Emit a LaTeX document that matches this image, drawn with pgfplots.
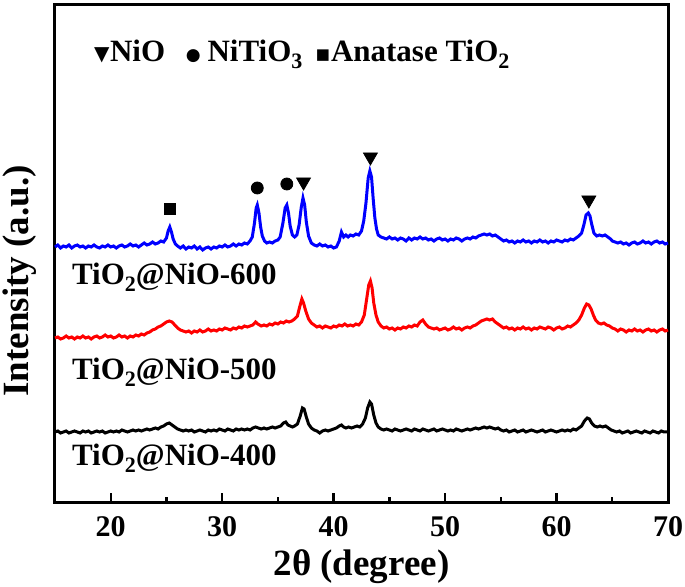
\documentclass[border=0pt]{standalone}
\usepackage{fontspec}
\setmainfont{Liberation Serif}
\newfontfamily\symfont{DejaVu Sans}
\usepackage{pgfplots}
\pgfplotsset{compat=1.18}
\newcommand{\sub}[1]{\raisebox{-0.45ex}{\fontsize{11}{11}\selectfont #1}}
\begin{document}
\begin{tikzpicture}
\begin{axis}[
  width=306.5pt, height=249pt, scale only axis,
  xmin=15, xmax=70, ymin=0, ymax=498,
  xtick={20,30,40,50,60,70}, minor x tick num=1,
  ytick=\empty, xtick pos=bottom, tick align=inside,
  major tick length=5pt, minor tick length=3pt,
  every tick/.style={black, line width=1.2pt},
  axis line style={line width=1.5pt},
  /pgf/number format/assume math mode=true,
  tick label style={font=\bfseries\fontsize{15}{15}\selectfont},
  xticklabel style={yshift=-3pt},
  xlabel={2θ (degree)},
  ylabel={Intensity (a.u.)},
  label style={font=\bfseries\fontsize{18.5}{20}\selectfont},
  xlabel style={yshift=0pt},
  ylabel style={yshift=5.5pt, xshift=-13.5pt},
  clip=false,
]
\coordinate (bl) at (rel axis cs:0,0);
\coordinate (tr) at (rel axis cs:1,1);
% blue: TiO2@NiO-600
\addplot[blue, line width=1.5pt] coordinates {
(15.0,256)(15.25,258)(15.5,255)(15.75,257)(16.0,256)(16.25,258)(16.5,255)(16.75,257)(17.0,258)(17.25,256)(17.5,257)(17.75,255)(18.0,257)(18.25,256)(18.5,258)(18.75,256)(19.0,255)(19.25,257)(19.5,256)(19.75,258)(20.0,256)(20.25,257)(20.5,255)(20.75,257)(21.0,258)(21.25,256)(21.5,257)(21.75,259)(22.0,257)(22.25,258)(22.5,256)(22.75,258)(23.0,260)(23.25,258)(23.5,259)(23.75,261)(24.0,259)(24.25,260)(24.5,262)(24.75,261)(25.0,265)(25.15,272)(25.3,276)(25.45,271)(25.6,264)(25.8,259)(26.0,257)(26.25,255)(26.5,257)(26.75,254)(27.0,256)(27.25,255)(27.5,257)(27.75,254)(28.0,256)(28.25,253)(28.5,255)(28.75,256)(29.0,254)(29.25,256)(29.5,255)(29.75,257)(30.0,256)(30.25,258)(30.5,256)(30.75,257)(31.0,259)(31.25,257)(31.5,259)(31.75,258)(32.0,260)(32.25,259)(32.5,262)(32.7,266)(32.9,280)(33.05,295)(33.15,298)(33.3,290)(33.45,276)(33.6,267)(33.8,262)(34.0,260)(34.25,261)(34.5,260)(34.75,262)(35.0,263)(35.2,266)(35.45,280)(35.65,295)(35.8,298)(35.95,290)(36.1,277)(36.3,268)(36.5,266)(36.7,268)(36.9,278)(37.1,296)(37.25,305)(37.4,298)(37.55,281)(37.75,267)(38.0,260)(38.25,258)(38.5,257)(38.75,259)(39.0,257)(39.25,258)(39.5,256)(39.75,257)(40.0,255)(40.25,256)(40.5,262)(40.7,271)(40.9,266)(41.1,268)(41.3,266)(41.5,268)(41.75,267)(42.0,269)(42.25,268)(42.5,272)(42.7,282)(42.9,300)(43.1,325)(43.25,332)(43.4,326)(43.55,304)(43.7,285)(43.85,274)(44.0,268)(44.25,266)(44.5,265)(44.75,264)(45.0,266)(45.25,264)(45.5,265)(45.75,263)(46.0,265)(46.25,264)(46.5,262)(46.75,265)(47.0,263)(47.25,265)(47.5,264)(47.75,266)(48.0,264)(48.25,265)(48.5,263)(48.75,264)(49.0,262)(49.25,264)(49.5,265)(49.75,263)(50.0,264)(50.25,262)(50.5,264)(50.75,263)(51.0,265)(51.25,264)(51.5,262)(51.75,264)(52.0,265)(52.25,264)(52.5,266)(52.75,265)(53.0,267)(53.25,268)(53.5,269)(53.75,268)(54.0,269)(54.25,267)(54.5,268)(54.75,266)(55.0,264)(55.25,262)(55.5,263)(55.75,261)(56.0,262)(56.25,260)(56.5,262)(56.75,261)(57.0,263)(57.25,261)(57.5,262)(57.75,260)(58.0,262)(58.25,261)(58.5,263)(58.75,261)(59.0,262)(59.25,260)(59.5,262)(59.75,261)(60.0,263)(60.25,262)(60.5,261)(60.75,263)(61.0,262)(61.25,264)(61.5,263)(61.75,265)(62.0,267)(62.25,270)(62.45,278)(62.65,288)(62.85,290)(63.0,287)(63.15,279)(63.35,270)(63.6,267)(63.85,268)(64.1,267)(64.35,268)(64.6,266)(64.85,264)(65.0,262)(65.25,261)(65.5,260)(65.75,261)(66.0,259)(66.25,260)(66.5,258)(66.75,260)(67.0,261)(67.25,259)(67.5,260)(67.75,262)(68.0,260)(68.25,261)(68.5,259)(68.75,261)(69.0,262)(69.25,260)(69.5,261)(69.75,259)(70.0,260)
};
% red: TiO2@NiO-500
\addplot[red, line width=1.5pt] coordinates {
(15.0,165)(15.25,166)(15.5,164)(15.75,165)(16.0,167)(16.25,165)(16.5,166)(16.75,164)(17.0,166)(17.25,165)(17.5,167)(17.75,165)(18.0,166)(18.25,164)(18.5,166)(18.75,167)(19.0,165)(19.25,166)(19.5,168)(19.75,166)(20.0,167)(20.25,165)(20.5,166)(20.75,168)(21.0,166)(21.25,167)(21.5,165)(21.75,167)(22.0,166)(22.25,168)(22.5,167)(22.75,169)(23.0,168)(23.25,170)(23.5,171)(23.75,173)(24.0,174)(24.25,176)(24.5,177)(24.75,179)(25.0,181)(25.25,182)(25.5,181)(25.75,178)(26.0,175)(26.25,173)(26.5,172)(26.75,171)(27.0,172)(27.25,170)(27.5,172)(27.75,171)(28.0,173)(28.25,171)(28.5,172)(28.75,174)(29.0,172)(29.25,173)(29.5,172)(29.75,174)(30.0,173)(30.25,175)(30.5,174)(30.75,173)(31.0,175)(31.25,174)(31.5,176)(31.75,175)(32.0,177)(32.25,176)(32.5,177)(32.75,178)(33.0,181)(33.2,179)(33.5,177)(33.75,178)(34.0,177)(34.25,179)(34.5,178)(34.75,180)(35.0,179)(35.25,181)(35.5,180)(35.75,182)(36.0,181)(36.25,182)(36.5,184)(36.75,187)(36.95,196)(37.15,204)(37.3,200)(37.5,192)(37.75,184)(38.0,180)(38.25,178)(38.5,176)(38.75,177)(39.0,175)(39.25,177)(39.5,176)(39.75,175)(40.0,177)(40.25,176)(40.5,178)(40.75,177)(41.0,179)(41.25,177)(41.5,178)(41.75,177)(42.0,179)(42.25,178)(42.5,181)(42.75,188)(42.95,203)(43.15,218)(43.3,222)(43.45,215)(43.6,200)(43.8,188)(44.0,181)(44.25,177)(44.5,175)(44.75,176)(45.0,174)(45.25,175)(45.5,173)(45.75,175)(46.0,174)(46.25,176)(46.5,175)(46.75,177)(47.0,176)(47.25,178)(47.5,177)(47.75,181)(48.0,183)(48.25,179)(48.5,176)(48.75,175)(49.0,174)(49.25,175)(49.5,173)(49.75,174)(50.0,175)(50.25,173)(50.5,174)(50.75,176)(51.0,174)(51.25,175)(51.5,173)(51.75,175)(52.0,176)(52.25,175)(52.5,177)(52.75,178)(53.0,180)(53.25,182)(53.5,183)(53.75,184)(54.0,183)(54.25,184)(54.5,181)(54.75,179)(55.0,177)(55.25,175)(55.5,176)(55.75,174)(56.0,175)(56.25,173)(56.5,175)(56.75,174)(57.0,176)(57.25,174)(57.5,175)(57.75,173)(58.0,175)(58.25,174)(58.5,176)(58.75,175)(59.0,174)(59.25,176)(59.5,175)(59.75,173)(60.0,175)(60.25,176)(60.5,174)(60.75,175)(61.0,177)(61.25,176)(61.5,178)(61.75,180)(62.0,183)(62.25,188)(62.5,195)(62.7,199)(62.9,198)(63.1,194)(63.3,188)(63.5,183)(63.75,180)(64.0,179)(64.25,180)(64.5,178)(64.75,177)(65.0,175)(65.25,174)(65.5,172)(65.75,174)(66.0,173)(66.25,171)(66.5,173)(66.75,172)(67.0,174)(67.25,172)(67.5,173)(67.75,171)(68.0,173)(68.25,174)(68.5,172)(68.75,173)(69.0,171)(69.25,173)(69.5,174)(69.75,172)(70.0,173)
};
% black: TiO2@NiO-400
\addplot[black, line width=1.5pt] coordinates {
(15.0,71)(15.25,72)(15.5,70)(15.75,71)(16.0,72)(16.25,70)(16.5,71)(16.75,72)(17.0,71)(17.25,70)(17.5,72)(17.75,71)(18.0,72)(18.25,70)(18.5,71)(18.75,72)(19.0,71)(19.25,72)(19.5,70)(19.75,71)(20.0,72)(20.25,71)(20.5,72)(20.75,71)(21.0,73)(21.25,72)(21.5,71)(21.75,72)(22.0,73)(22.25,72)(22.5,73)(22.75,72)(23.0,73)(23.25,74)(23.5,73)(23.75,74)(24.0,75)(24.25,74)(24.5,76)(24.75,77)(25.0,79)(25.25,80)(25.5,78)(25.75,76)(26.0,74)(26.25,73)(26.5,72)(26.75,73)(27.0,72)(27.25,73)(27.5,71)(27.75,72)(28.0,73)(28.25,72)(28.5,71)(28.75,73)(29.0,72)(29.25,73)(29.5,72)(29.75,74)(30.0,73)(30.25,72)(30.5,74)(30.75,73)(31.0,72)(31.25,74)(31.5,73)(31.75,74)(32.0,73)(32.25,74)(32.5,73)(32.75,75)(33.0,76)(33.25,75)(33.5,74)(33.75,75)(34.0,74)(34.25,75)(34.5,76)(34.75,75)(35.0,76)(35.25,77)(35.5,80)(35.7,81)(35.9,78)(36.1,77)(36.3,76)(36.5,77)(36.75,79)(37.0,87)(37.2,95)(37.35,94)(37.55,86)(37.75,79)(38.0,75)(38.25,73)(38.5,72)(38.75,70)(39.0,72)(39.25,73)(39.5,72)(39.75,73)(40.0,74)(40.25,75)(40.5,77)(40.7,78)(40.9,76)(41.1,75)(41.35,76)(41.6,75)(41.85,76)(42.1,77)(42.35,76)(42.6,79)(42.85,85)(43.05,95)(43.25,101)(43.4,99)(43.6,88)(43.8,80)(44.0,76)(44.25,74)(44.5,73)(44.75,74)(45.0,73)(45.25,72)(45.5,74)(45.75,73)(46.0,72)(46.25,73)(46.5,74)(46.75,73)(47.0,72)(47.25,74)(47.5,73)(47.75,72)(48.0,74)(48.25,73)(48.5,72)(48.75,73)(49.0,74)(49.25,72)(49.5,73)(49.75,74)(50.0,73)(50.25,72)(50.5,73)(50.75,72)(51.0,74)(51.25,73)(51.5,72)(51.75,73)(52.0,74)(52.25,73)(52.5,74)(52.75,75)(53.0,74)(53.25,75)(53.5,76)(53.75,75)(54.0,76)(54.25,75)(54.5,74)(54.75,75)(55.0,73)(55.25,72)(55.5,73)(55.75,71)(56.0,72)(56.25,73)(56.5,71)(56.75,72)(57.0,73)(57.25,71)(57.5,72)(57.75,73)(58.0,72)(58.25,71)(58.5,72)(58.75,73)(59.0,71)(59.25,72)(59.5,73)(59.75,72)(60.0,71)(60.25,72)(60.5,73)(60.75,72)(61.0,73)(61.25,72)(61.5,74)(61.75,73)(62.0,75)(62.25,77)(62.5,82)(62.75,85)(62.95,84)(63.15,80)(63.4,77)(63.65,76)(63.9,77)(64.15,76)(64.4,77)(64.65,75)(64.9,73)(65.15,72)(65.4,71)(65.65,72)(65.9,70)(66.15,71)(66.4,72)(66.65,70)(66.9,71)(67.15,72)(67.4,71)(67.65,70)(67.9,72)(68.15,71)(68.4,70)(68.65,72)(68.9,71)(69.15,70)(69.4,72)(69.65,71)(70.0,71)
};
% phase markers
\addplot[only marks, mark=triangle*, mark size=4pt, mark options={rotate=180, fill=black, draw=black}] coordinates {(37.3,321)(43.3,346)(62.9,303)};
\addplot[only marks, mark=*, mark size=3pt, mark options={fill=black, draw=black}] coordinates {(33.15,315)(35.8,319)};
\addplot[only marks, mark=square*, mark size=2.75pt, mark options={fill=black, draw=black}] coordinates {(25.3,294)};
% legend text
\node[anchor=base, font=\symfont\fontsize{10}{10}\selectfont] at (axis cs:19.2,442) {▼};
\node[anchor=base west, inner sep=0pt, font=\bfseries\fontsize{15.5}{16}\selectfont] at (axis cs:19.9,441) {NiO};
\node[anchor=base, font=\symfont\fontsize{8.5}{8.5}\selectfont] at (axis cs:27.4,442) {●};
\node[anchor=base west, inner sep=0pt, font=\bfseries\fontsize{15.5}{16}\selectfont] at (axis cs:28.65,441) {NiTiO\sub{3}};
\node[anchor=base, font=\symfont\fontsize{7.5}{7.5}\selectfont] at (axis cs:39.05,443) {■};
\node[anchor=base west, inner sep=0pt, font=\bfseries\fontsize{15.5}{16}\selectfont] at (axis cs:39.73,441) {Anatase TiO\sub{2}};
% sample labels
\node[anchor=base west, inner sep=0pt, font=\bfseries\fontsize{15.5}{16}\selectfont] at (axis cs:16.5,218) {TiO\sub{2}@NiO-600};
\node[anchor=base west, inner sep=0pt, font=\bfseries\fontsize{15.5}{16}\selectfont] at (axis cs:16.5,123) {TiO\sub{2}@NiO-500};
\node[anchor=base west, inner sep=0pt, font=\bfseries\fontsize{15.5}{16}\selectfont] at (axis cs:16.5,37) {TiO\sub{2}@NiO-400};
\end{axis}
\pgfresetboundingbox
\path ([shift={(-27.5pt,-42pt)}]bl) rectangle ([shift={(8.5pt,2.5pt)}]tr);
\end{tikzpicture}
\end{document}
